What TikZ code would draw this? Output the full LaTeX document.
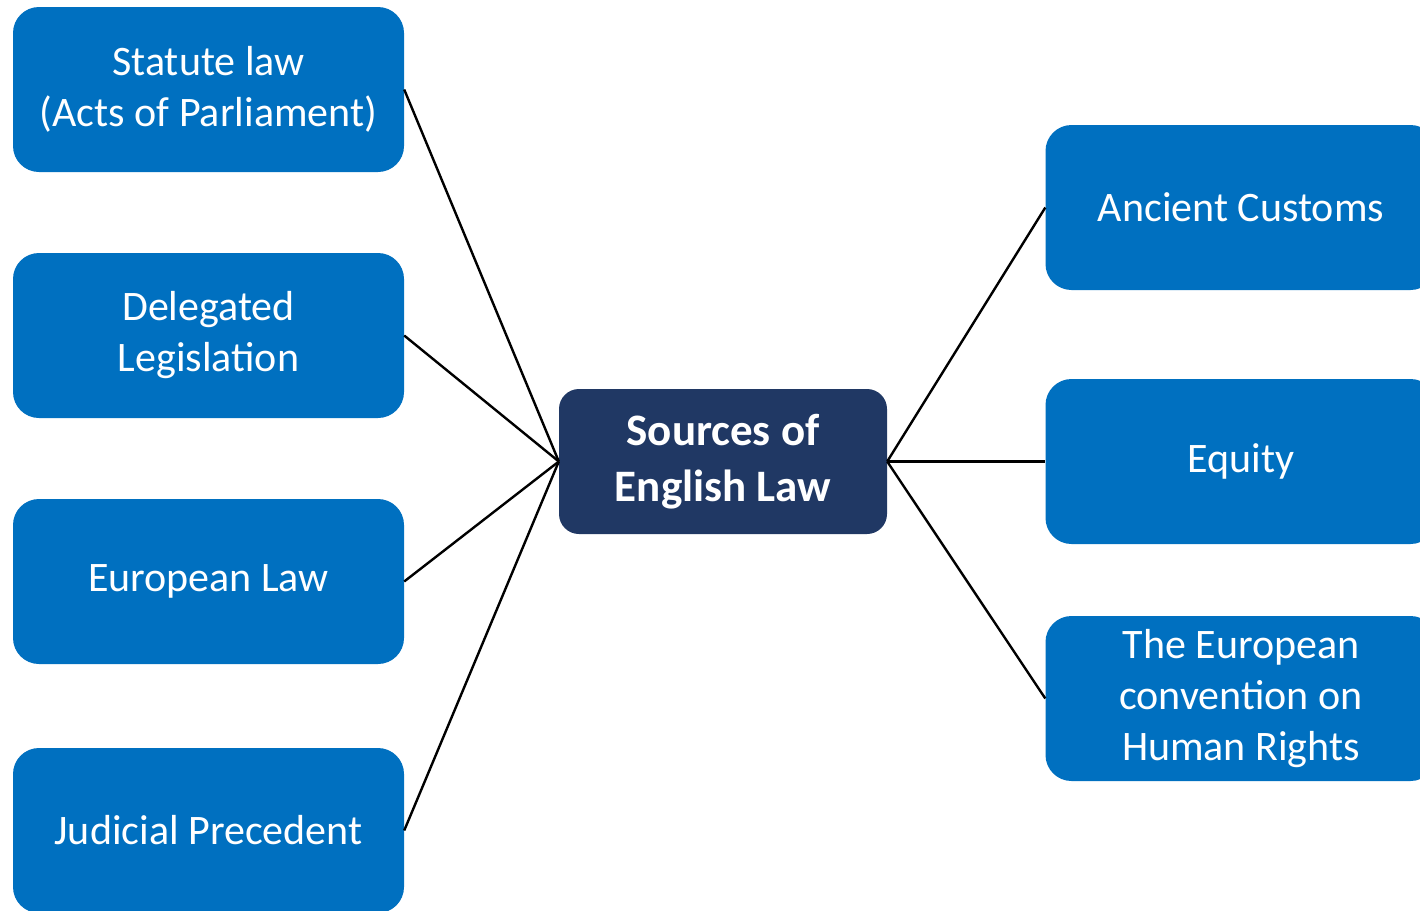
\documentclass[tikz,border=0pt]{standalone}
\usepackage{fontspec}
\setmainfont{Carlito}
\definecolor{srcblue}{RGB}{0,112,192}
\definecolor{srcnavy}{RGB}{32,56,100}
\begin{document}
\begin{tikzpicture}[x=1pt,y=-1pt,
  source/.style={rectangle, rounded corners=26pt, fill=srcblue, text=white,
    minimum width=391pt, minimum height=165pt, inner sep=0pt, align=center,
    font=\fontsize{42}{51}\selectfont},
  hub/.style={rectangle, rounded corners=20pt, fill=srcnavy, text=white,
    minimum width=328pt, minimum height=145pt, inner sep=0pt, align=center,
    font=\fontsize{45}{56}\selectfont\bfseries},
  link/.style={draw=black, line width=2.4pt}]
\useasboundingbox (0,0) rectangle (1420,910);
\clip (0,0) rectangle (1420,910);
\fill[white] (0,0) rectangle (1420,910);

% central topic
\node[hub] (hub) at (723,461.5) {Sources of\\English Law};

% primary sources on the left
\node[source] (statute)   at (208.5,89.5)  {Statute law\\(Acts of Parliament)};
\node[source] (delegated) at (208.5,335.5) {Delegated\\Legislation};
\node[source] (eulaw)     at (208.5,581.5) {European Law};
\node[source] (judicial)  at (208.5,830.5) {Judicial Precedent};

% other sources on the right
\node[source] (customs) at (1241,207.5) {Ancient Customs};
\node[source] (equity)  at (1241,461.5) {Equity};
\node[source] (echr)    at (1241,698.5) {The European\\convention on\\Human Rights};

% connectors
\foreach \n in {statute,delegated,eulaw,judicial}
  \draw[link] (\n.east) -- (hub.west);
\foreach \n in {customs,equity,echr}
  \draw[link] (hub.east) -- (\n.west);
\end{tikzpicture}
\end{document}
